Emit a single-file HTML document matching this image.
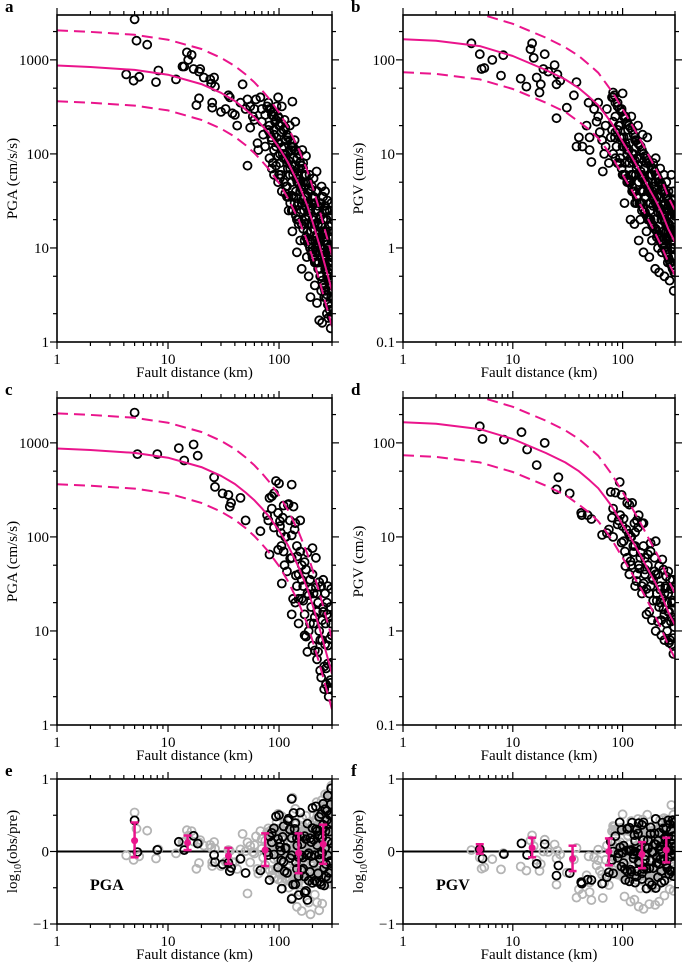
<!DOCTYPE html>
<html><head><meta charset="utf-8">
<style>
html,body{margin:0;padding:0;background:#fff;}
svg{display:block;font-family:"Liberation Serif",serif;}
</style></head>
<body>
<svg id="fig" width="685" height="963" viewBox="0 0 685 963" xmlns="http://www.w3.org/2000/svg"></svg>
<script>
// ---------- DATA ----------
const curveR = [1,2,5,10,20,30,40,50,60,70,80,100,120,150,180,200,230,260,300];
const pgaMedian = [871,840,782,695,553,446,365,297,245,202,168,117,82,48,28,19,11,6.5,3.5];
const pgaUpper  = [2056,1982,1846,1640,1305,1053,861,701,578,477,396,276,194,113,66,45,26,15.3,8.3];
const pgaLower  = [363,350,326,290,230,186,152,124,102,84,70,49,34,20,11.7,7.9,4.6,2.7,1.46];
const pgvMedian = [166,160,140,110,78,62,50,40,33,26,21,13.5,9.5,6,4,3.2,2.3,1.6,1.15];
const pgvUpper  = [365,352,308,242,172,136,110,88,73,57,46,30,21,13.2,8.8,7,5.1,3.5,2.5];
const pgvLower  = [74,71,62,49,35,28,22,18,14.7,11.6,9.3,6,4.2,2.7,1.8,1.4,1.0,0.71,0.51];

const pgaAllR = [5,5.2,6.5,4.2,4.9,5.5,7.8,8.2,11.8,13.5,14,14.8,15.2,16.3,17,19,19.5,21,18,19,24,24.5,26,26.5,25,25,30,33,35,36,38,40,42,45,47,50,52,52,55,55,58,60,62,64,65,68,70,72,75,78,80,82,85,88,90,92,95,98,100,100,102,104,106,108,110,112,115,118,120,122,125,128,130,132,132,135,138,140,142,145,145,148,150,150,155,158,160,162,165,168,170,172,175,178,180,182,185,188,190,192,195,198,200,200,205,208,210,212,215,218,220,222,225,228,230,232,235,238,240,242,245,248,250,252,255,258,260,262,265,268,270,272,275,278,280,282,285,288,290,292,295,298,296,85,90,95,100,105,110,115,120,125,130,135,140,145,150,155,160,165,170,175,180,185,190,195,200,205,210,215,220,225,230,235,240,245,250,255,260,265,270,275,280,285,290,295,298,260,240,210,190,170,150,130,115,100,90,80,70,60,75,88,98];
const pgaAllV = [2700,1600,1450,700,600,660,580,770,620,850,850,1200,1000,1130,800,750,800,650,330,390,620,560,650,520,350,310,280,300,420,400,270,260,200,350,550,300,380,75,320,190,250,230,380,130,110,400,300,160,260,320,350,200,150,280,180,220,150,400,130,240,80,60,320,100,180,230,140,35,70,25,200,110,50,15,360,90,140,220,40,20,9,60,100,30,12,45,6,110,80,25,18,50,95,8,35,12,5,60,28,3,15,45,20,8,55,30,4,12,25,65,2.6,40,18,7,1.7,30,12,22,5,45,1.6,15,35,9,3,25,28,14,6,20,2,32,11,1.8,17,7,25,4,13,1.4,22,9,30,300,250,320,200,170,120,90,150,60,120,35,75,55,70,40,30,50,35,20,50,25,40,30,12,35,18,40,10,28,15,6,30,10,20,12,8,15,25,5,10,15,6,3,18,40,3.5,7,10,12,18,25,45,60,110,180,220,300,120,80,95];

const denseR = [82,86,90,94,98,102,106,110,114,118,122,126,130,134,138,142,146,150,155,160,165,170,175,180,185,190,195,200,205,210,215,220,225,230,235,240,245,250,255,260,265,270,275,280,285,290,295,299];
const pgaDenseLow  = [90,70,60,75,50,55,40,50,38,45,35,30,36,25,30,22,28,20,24,18,16,18,13,15,11,12,9,10,8,9,7,7,6,6,5,5,4.5,4,3.8,3.5,3,3.2,2.5,2.6,2.2,2.4,1.9,1.8];
const pgaDenseMid  = [170,140,160,120,130,100,115,90,100,80,85,70,75,60,65,55,50,50,40,42,33,35,28,30,22,25,18,20,16,18,13,14,11,12,9,10,8,7,7.5,6,6.5,5,5.5,4.5,4,4.5,3.5,4];
const pgaDenseHigh = [300,260,280,230,250,200,210,180,190,160,150,140,130,120,110,110,90,100,80,75,70,60,60,50,50,40,42,35,35,30,30,25,25,20,22,18,17,15,14,13,12,11,10,9.5,9,8,8,7];
const pgaDenseSub  = [65,270,126,393,73,147,32,216,100,43,224,59,104,22,120,39,62,22,150,35,21,54,8.7,68,24,12,28,76,12,6.2,29,16,6,33,8,3.2,13,18,4.2,7.2,2.7,15,4.5,2.4,8.2,2.8,12,4.6];
const pgvDenseLow  = [10,9,8,8,7,6,6,5.5,5,5,4.5,4,4,3.5,3.5,3,3,3,2.6,2.4,2.2,2.1,2,2,1.8,1.7,1.6,1.6,1.5,1.4,1.3,1.2,1.2,1.1,1.1,1,0.95,0.9,0.85,0.8,0.75,0.7,0.7,0.65,0.6,0.6,0.55,0.55];
const pgvDenseMid  = [22,17,18,15,15,12,13,11,11,9,10,8,8.5,7,7.5,6,6.5,5.5,5.5,4.8,4.8,4,4.2,3.8,3.8,3.3,3.4,3,3.1,2.7,2.7,2.4,2.5,2.2,2.2,1.9,2,1.7,1.8,1.5,1.6,1.4,1.5,1.2,1.3,1.1,1.2,1.0];
const pgvDenseHigh = [40,35,32,30,28,25,24,22,20,19,18,16,15,14,13,12.5,12,11,10,9.5,9,8.5,8,7.5,7,7,6.5,6,6,5.5,5,5,4.8,4.5,4.2,4,3.8,3.5,3.4,3.2,3,2.9,2.8,2.6,2.5,2.4,2.3,2.2];
const pgvDenseSub  = [10,29.6,13.6,38.4,8.7,15.6,4.9,23,10.8,5.5,23,6.9,11.2,3.4,12.6,4.6,6.8,3,14,4.5,2.8,6.5,1.6,8.6,3.7,2.1,4.3,9,2.1,1.26,4.9,2.75,1.3,5.75,1.7,0.8,2.85,3.8,1,1.6,0.75,3.5,1.26,0.72,2.1,0.84,3,1.32];

const pgaSubR = [5,5.3,8,12.5,14,17,18.5,26,26.5,31,35,37,36,45,50,68,78,80,82,86,90,100,98,102,104,105,108,110,115,120,125,130,135,140,112,130,145,150,140,145,155,160,165,170,175,180,185,190,195,200,205,210,215,220,225,230,235,240,245,250,255,260,262,265,270,275,280,285,290,295,298,130,150,160,170,180,200,220,250,275,290];
const pgaSubV = [2100,760,760,880,650,960,730,430,340,290,280,230,210,260,150,115,170,150,260,200,290,370,180,130,110,80,160,70,100,220,150,360,210,140,50,60,80,40,20,30,70,50,30,15,45,25,10,35,18,7,25,14,60,5,20,10,3.8,30,8,16,2.4,25,12,4,20,7,2,14,3,28,9,15,12,22,9,6,40,25,35,30,18];

const pgvAllR = [4.2,5,5.2,5.5,6.5,7.8,8.2,11.8,13.3,14.5,15,15.5,16.5,17.5,18,19,19.5,21,24,25,25,25.5,27,31,36,38,38,40,43,47,49,50,50,52,55,58,60,62,65,66,68,70,72,75,78,80,82,84,86,88,90,92,95,98,100,100,102,104,106,108,110,112,115,118,120,122,125,128,130,132,135,138,140,145,148,150,152,155,158,160,165,168,170,175,178,180,185,188,190,195,198,200,205,210,212,215,220,225,228,230,235,238,240,245,248,250,255,258,262,265,268,270,275,278,280,285,288,290,292,295,298,200,180,160,140,120,110,130,150,170,190,210,230,250,270,290,260,240,220,200,100,90,80,70,60,85,95,105,115,125,135,145,155,165,175,185,195,205,215,225,235,245,255,265,275,285,295];
const pgvAllV = [150,115,80,82,100,68,112,63,52,130,150,105,65,45,55,80,115,75,88,55,24,70,60,31,42,58,12,15,12,20,35,15,11,8.2,30,22,25,17,14,6.5,10,20,30,8,15,40,45,42,25,12,35,20,9,30,44,6,15,3,25,12,5,18,8,2,25,4,10,1.8,14,6,3,20,1.2,9,4,2.5,16,0.9,7,3.5,1.5,15,5,0.8,2.5,6,1.2,4,8,2,0.6,9,3.5,1,5,0.55,7,2,0.9,4,1.5,6,0.5,3,1.2,5,2.2,0.7,4,1.8,0.45,3,1,6,2.5,0.8,1.5,4,0.35,2,0.6,5,3,5,5,6,10,3,6,2,2.8,2.4,1.2,1.5,1.3,1,2.8,2.2,3.5,1.6,12,8,18,12,35,15,20,8,13,6,9,2,4,8,4,6,4.5,1.3,2.6,4.5,2.8,1.9,3.6,2.5,1.6,3.2,1.3];

const pgvSubR = [5,5.3,8.3,12,13.5,16.5,19.5,25,26,33,42,42.5,48,52,65,72,75,78,80,82,98,92,95,100,102,105,108,110,115,118,120,125,128,130,135,140,145,150,150,155,160,165,170,175,180,185,190,195,200,205,210,215,220,225,230,235,240,245,250,255,260,265,270,275,280,285,290,292,295,298,120,130,140,160,180,200,220,240,260,280,115,135,155];
const pgvSubV = [150,110,108,130,85,58,100,32,43,29,18,17,17,15.5,10.5,11,12,30,16,20,28,15,17,13,9,7,12,6,22,10,5,8,14,3,15,17,6,14,2.5,8,4,1.5,5,2.5,7,1.3,3.5,6,1,2.5,4,1.8,3,0.9,2.2,4.5,1.5,3,1.2,2,4.3,1.6,0.8,2.8,1.4,3.5,0.57,2,1.1,3,10,8,5,6,3,4,2,2.5,2.5,2,4,4,3.2];

const binR = [5,15,35,75,150,250];
const pgaBinMean = [0.15,0.12,-0.06,0.02,-0.02,0.10];
const pgaBinLo = [-0.08,0.02,-0.17,-0.20,-0.30,-0.17];
const pgaBinHi = [0.40,0.22,0.05,0.25,0.25,0.37];
const pgvBinMean = [0.03,0.05,-0.10,0.00,-0.04,0.02];
const pgvBinLo = [-0.03,-0.08,-0.27,-0.19,-0.23,-0.15];
const pgvBinHi = [0.10,0.19,0.08,0.18,0.13,0.19];

const pgaFullR = pgaAllR.concat(denseR, denseR, denseR);
const pgaFullV = pgaAllV.concat(pgaDenseLow, pgaDenseMid, pgaDenseHigh);
const pgvFullR = pgvAllR.concat(denseR, denseR, denseR);
const pgvFullV = pgvAllV.concat(pgvDenseLow, pgvDenseMid, pgvDenseHigh);
const pgaSubFullR = pgaSubR.concat(denseR);
const pgaSubFullV = pgaSubV.concat(pgaDenseSub);
const pgvSubFullR = pgvSubR.concat(denseR);
const pgvSubFullV = pgvSubV.concat(pgvDenseSub);

// ---------- DRAWING ----------
const NS = "http://www.w3.org/2000/svg";
const svg = document.getElementById('fig');
const MAG = '#ea148c';
function mk(tag, attrs, parent) {
  const e = document.createElementNS(NS, tag);
  for (const k in attrs) e.setAttribute(k, attrs[k]);
  (parent || svg).appendChild(e);
  return e;
}
function txt(x, y, s, size, anchor, parent, weight) {
  const t = mk('text', {x: x, y: y, 'font-size': size, 'text-anchor': anchor || 'middle', fill: '#000'}, parent);
  if (weight) t.setAttribute('font-weight', weight);
  t.textContent = s;
  return t;
}
const LOGX0 = 0, LOGX1 = Math.log10(300);
function xScaleFn(L, R) { return r => L + (Math.log10(r) - LOGX0) / (LOGX1 - LOGX0) * (R - L); }

function xAxis(g, L, R, B, T, xs) {
  for (let d = 1; d <= 100; d *= 10) {
    for (let m = 1; m <= 9; m++) {
      const v = d * m; if (v > 300) break;
      const x = xs(v); const len = m === 1 ? 7 : 4;
      mk('line', {x1: x, y1: B, x2: x, y2: B + len, stroke: '#000', 'stroke-width': 1.2}, g);
      mk('line', {x1: x, y1: T, x2: x, y2: T - len, stroke: '#000', 'stroke-width': 1.2}, g);
    }
  }
  const tl = mk('g', {}, g);
  
  
  ['1','10','100'].forEach((s, i) => txt(xs(Math.pow(10, i)), B + 22, s, 15, 'middle', tl));
  const xt = txt((L + R) / 2, B + 35, 'Fault distance (km)', 15, 'middle', g);
  
  
}

function logPanel(opt) {
  const {L, R, T, B, ymin, ymax, letter, ytitle, yticks, median, upper, lower, allR, allV, name} = opt;
  const g = mk('g', {});
  
  
  const xs = xScaleFn(L, R);
  const l0 = Math.log10(ymin), l1 = Math.log10(ymax);
  const ys = v => B - (Math.log10(v) - l0) / (l1 - l0) * (B - T);
  for (let d = ymin; d < ymax; d *= 10) {
    [1, 2, 5].forEach(m => {
      const v = d * m; if (v > ymax) return;
      const y = ys(v); const len = m === 1 ? 7 : 4;
      mk('line', {x1: L, y1: y, x2: L - len, y2: y, stroke: '#000', 'stroke-width': 1.2}, g);
      mk('line', {x1: R, y1: y, x2: R + len, y2: y, stroke: '#000', 'stroke-width': 1.2}, g);
    });
  }
  const yl = mk('g', {}, g);
  
  
  yticks.forEach(v => txt(L - 8, ys(v) + 5, String(v), 15, 'end', yl));
  xAxis(g, L, R, B, T, xs);
  const clipId = 'clip-' + name;
  const cp = mk('clipPath', {id: clipId}, g);
  mk('rect', {x: L, y: T, width: R - L, height: B - T}, cp);
  const plot = mk('g', {'clip-path': 'url(#' + clipId + ')'}, g);
  const pts = mk('g', {}, plot);
  
  
  allR.forEach((r, i) => {
    const c = mk('circle', {cx: xs(r).toFixed(1), cy: ys(allV[i]).toFixed(1), r: 4, fill: 'none', stroke: '#000', 'stroke-width': 1.8}, pts);
    
    
  });
  const path = arr => curveR.map((r, i) => (i ? 'L' : 'M') + xs(r).toFixed(1) + ' ' + ys(arr[i]).toFixed(1)).join(' ');
  const med = mk('path', {d: path(median), fill: 'none', stroke: MAG, 'stroke-width': 2, 'stroke-linejoin': 'round'}, plot);
  
  
  const up = mk('path', {d: path(upper), fill: 'none', stroke: MAG, 'stroke-width': 2, 'stroke-dasharray': '11 6'}, plot);
  
  
  const lo = mk('path', {d: path(lower), fill: 'none', stroke: MAG, 'stroke-width': 2, 'stroke-dasharray': '11 6'}, plot);
  
  
  mk('rect', {x: L, y: T, width: R - L, height: B - T, fill: 'none', stroke: '#000', 'stroke-width': 1.6}, g);
  const lt = txt(L - 52, T - 3, letter, 17, 'start', g, 'bold');
  
  
  const yt = txt(0, 0, ytitle, 15, 'middle', g);
  yt.setAttribute('transform', 'translate(' + (L - 40) + ',' + ((T + B) / 2) + ') rotate(-90)');
  
  
}

function interpMedian(arr, r) {
  const lr = Math.log10(r);
  for (let i = 0; i < curveR.length - 1; i++) {
    const a = Math.log10(curveR[i]), b = Math.log10(curveR[i + 1]);
    if (lr <= b || i === curveR.length - 2) {
      const t = (lr - a) / (b - a);
      return Math.log10(arr[i]) + t * (Math.log10(arr[i + 1]) - Math.log10(arr[i]));
    }
  }
}

function residPanel(opt) {
  const {L, R, T, B, letter, label, median, allR, allV, subR, subV, mean, lo, hi, name} = opt;
  const g = mk('g', {});
  
  
  const xs = xScaleFn(L, R);
  const ys = v => B - (v + 1) / 2 * (B - T);
  [-1, -0.5, 0, 0.5, 1].forEach(v => {
    const len = Number.isInteger(v) ? 7 : 4;
    mk('line', {x1: L, y1: ys(v), x2: L - len, y2: ys(v), stroke: '#000', 'stroke-width': 1.2}, g);
    mk('line', {x1: R, y1: ys(v), x2: R + len, y2: ys(v), stroke: '#000', 'stroke-width': 1.2}, g);
  });
  const yl = mk('g', {}, g);
  
  
  [['−1', -1], ['0', 0], ['1', 1]].forEach(p => txt(L - 8, ys(p[1]) + 5, p[0], 15, 'end', yl));
  xAxis(g, L, R, B, T, xs);
  const clipId = 'clip-' + name;
  const cp = mk('clipPath', {id: clipId}, g);
  mk('rect', {x: L, y: T, width: R - L, height: B - T}, cp);
  const plot = mk('g', {'clip-path': 'url(#' + clipId + ')'}, g);
  const zl = mk('line', {x1: L, y1: ys(0), x2: R, y2: ys(0), stroke: '#000', 'stroke-width': 2}, plot);
  
  
  const gr = mk('g', {}, plot);
  
  
  allR.forEach((r, i) => {
    const res = Math.log10(allV[i]) - interpMedian(median, r);
    const c = mk('circle', {cx: xs(r).toFixed(1), cy: ys(res).toFixed(1), r: 4, fill: 'none', stroke: '#b4b4b4', 'stroke-width': 1.8}, gr);
    
    
  });
  const bk = mk('g', {}, plot);
  
  
  subR.forEach((r, i) => {
    const res = Math.log10(subV[i]) - interpMedian(median, r);
    const c = mk('circle', {cx: xs(r).toFixed(1), cy: ys(res).toFixed(1), r: 4, fill: 'none', stroke: '#000', 'stroke-width': 1.8}, bk);
    
    
  });
  const eb = mk('g', {}, plot);
  
  
  binR.forEach((r, i) => {
    const x = xs(r);
    const b = mk('g', {}, eb);
    
    
    mk('line', {x1: x, y1: ys(lo[i]), x2: x, y2: ys(hi[i]), stroke: MAG, 'stroke-width': 2.5}, b);
    mk('line', {x1: x - 4, y1: ys(lo[i]), x2: x + 4, y2: ys(lo[i]), stroke: MAG, 'stroke-width': 2.5}, b);
    mk('line', {x1: x - 4, y1: ys(hi[i]), x2: x + 4, y2: ys(hi[i]), stroke: MAG, 'stroke-width': 2.5}, b);
    mk('circle', {cx: x, cy: ys(mean[i]), r: 3.5, fill: MAG}, b);
  });
  mk('rect', {x: L, y: T, width: R - L, height: B - T, fill: 'none', stroke: '#000', 'stroke-width': 1.6}, g);
  const lt = txt(L - 52, T - 3, letter, 17, 'start', g, 'bold');
  
  
  const pl = txt(L + 33, B - 34, label, 16, 'start', g, 'bold');
  
  
  const yt = mk('text', {'font-size': 15, 'text-anchor': 'middle', fill: '#000',
    transform: 'translate(' + (L - 40) + ',' + ((T + B) / 2) + ') rotate(-90)'}, g);
  
  
  const t1 = mk('tspan', {}, yt); t1.textContent = 'log';
  const t2 = mk('tspan', {'font-size': 10, dy: 4}, yt); t2.textContent = '10';
  const t3 = mk('tspan', {dy: -4}, yt); t3.textContent = '(obs/pre)';
}

logPanel({name: 'panel-a-pga', L: 57, R: 332, T: 15, B: 342, ymin: 1, ymax: 3000, letter: 'a', ytitle: 'PGA (cm/s/s)', yticks: [1,10,100,1000], median: pgaMedian, upper: pgaUpper, lower: pgaLower, allR: pgaFullR, allV: pgaFullV});
logPanel({name: 'panel-b-pgv', L: 403, R: 675, T: 15, B: 342, ymin: 0.1, ymax: 300, letter: 'b', ytitle: 'PGV (cm/s)', yticks: [0.1,1,10,100], median: pgvMedian, upper: pgvUpper, lower: pgvLower, allR: pgvFullR, allV: pgvFullV});
logPanel({name: 'panel-c-pga', L: 57, R: 332, T: 398, B: 725, ymin: 1, ymax: 3000, letter: 'c', ytitle: 'PGA (cm/s/s)', yticks: [1,10,100,1000], median: pgaMedian, upper: pgaUpper, lower: pgaLower, allR: pgaSubFullR, allV: pgaSubFullV});
logPanel({name: 'panel-d-pgv', L: 403, R: 675, T: 398, B: 725, ymin: 0.1, ymax: 300, letter: 'd', ytitle: 'PGV (cm/s)', yticks: [0.1,1,10,100], median: pgvMedian, upper: pgvUpper, lower: pgvLower, allR: pgvSubFullR, allV: pgvSubFullV});
residPanel({name: 'panel-e-pga-residuals', L: 57, R: 332, T: 779, B: 924, letter: 'e', label: 'PGA', median: pgaMedian, allR: pgaFullR, allV: pgaFullV, subR: pgaSubFullR, subV: pgaSubFullV, mean: pgaBinMean, lo: pgaBinLo, hi: pgaBinHi});
residPanel({name: 'panel-f-pgv-residuals', L: 403, R: 675, T: 779, B: 924, letter: 'f', label: 'PGV', median: pgvMedian, allR: pgvFullR, allV: pgvFullV, subR: pgvSubFullR, subV: pgvSubFullV, mean: pgvBinMean, lo: pgvBinLo, hi: pgvBinHi});
</script>
</body></html>
